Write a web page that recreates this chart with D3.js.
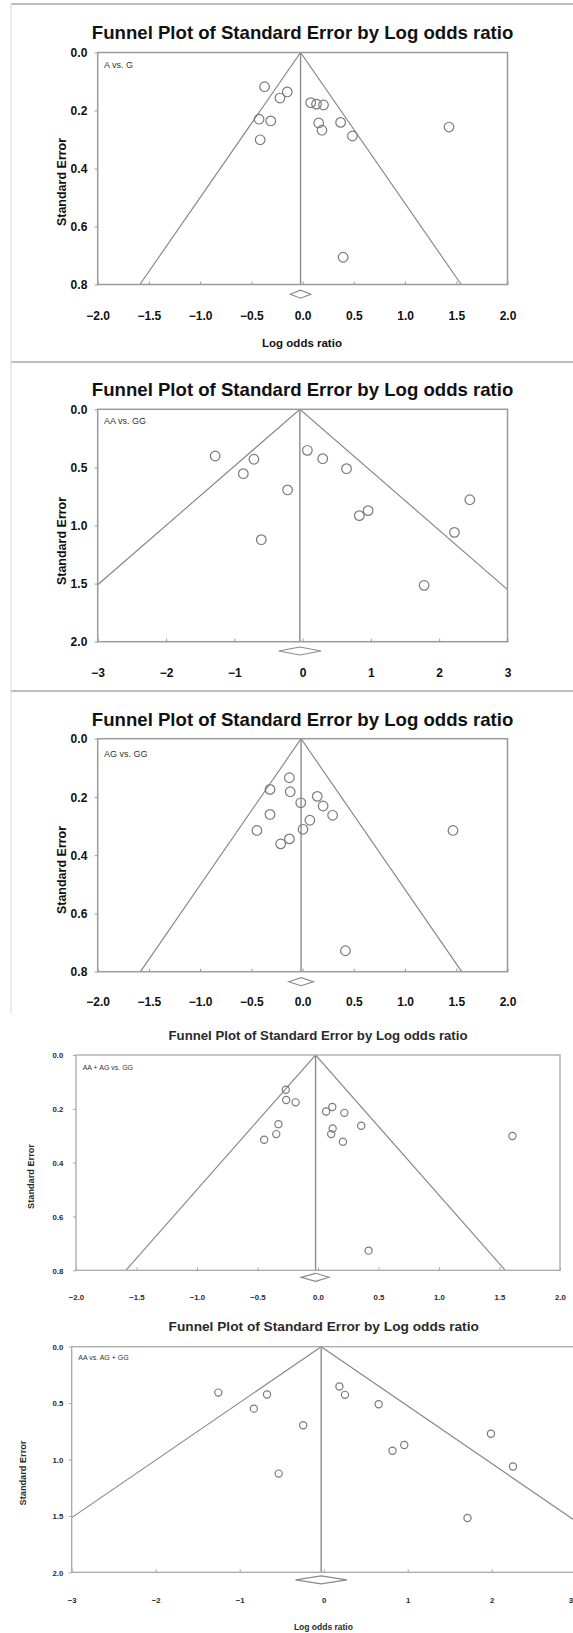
<!DOCTYPE html>
<html>
<head>
<meta charset="utf-8">
<script src="https://d3js.org/d3.v7.min.js"></script>
<style>
  html, body { margin: 0; padding: 0; background: #fff; }
  svg { display: block; font-family: "Liberation Sans", Arial, sans-serif; }
</style>
</head>
<body>
<svg id="chart" width="573" height="1633"></svg>
<script>
// ---------------- DATA ----------------
const chartTitle = "Funnel Plot of Standard Error by Log odds ratio";
const yAxisTitle = "Standard Error";
const xAxisTitle = "Log odds ratio";
const panelLabels = ["A vs. G", "AA vs. GG", "AG vs. GG", "AA + AG vs. GG", "AA vs. AG + GG"];

// Study log odds ratios and standard errors per comparison
const lorAvsG   = [-0.371, -0.150, -0.221, -0.425, -0.311, -0.414, 0.079, 0.136, 0.204, 0.157, 0.189, 0.371, 0.486, 1.429, 0.396];
const seAvsG    = [0.118, 0.136, 0.157, 0.230, 0.236, 0.301, 0.173, 0.178, 0.181, 0.243, 0.268, 0.241, 0.288, 0.257, 0.706];

const lorAAvsGG = [-1.280, -0.713, -0.868, -0.220, -0.605, 0.070, 0.295, 0.643, 0.830, 0.959, 2.448, 2.223, 1.779];
const seAAvsGG  = [0.402, 0.430, 0.554, 0.694, 1.122, 0.353, 0.425, 0.511, 0.915, 0.872, 0.778, 1.059, 1.515];

const lorAGvsGG = [-0.129, -0.318, -0.121, 0.143, -0.018, 0.200, 0.293, -0.318, 0.071, 0.004, -0.446, -0.129, -0.214, 1.468, 0.418];
const seAGvsGG  = [0.134, 0.174, 0.182, 0.198, 0.220, 0.231, 0.263, 0.260, 0.280, 0.311, 0.315, 0.344, 0.361, 0.315, 0.728];

const lorDominant = [-0.266, -0.263, -0.185, -0.327, -0.345, -0.445, 0.067, 0.118, 0.218, 0.121, 0.109, 0.206, 0.357, 1.607, 0.418];
const seDominant  = [0.129, 0.167, 0.176, 0.257, 0.294, 0.315, 0.210, 0.193, 0.215, 0.273, 0.294, 0.322, 0.263, 0.301, 0.727];

const lorRecessive = [-1.255, -0.675, -0.832, -0.244, -0.536, 0.187, 0.253, 0.654, 0.819, 0.959, 1.991, 2.253, 1.712];
const seRecessive  = [0.407, 0.424, 0.549, 0.697, 1.125, 0.353, 0.427, 0.510, 0.923, 0.872, 0.772, 1.062, 1.519];

// Pooled estimate [point, lower, upper] per comparison (diamond)
const pooledEstimate = [-0.02, -0.04, -0.015, -0.02, -0.03];
const pooledLower    = [-0.12, -0.35, -0.135, -0.14, -0.335];
const pooledUpper    = [ 0.08,  0.27,  0.105,  0.09,  0.275];

// Axis ticks
const xTicksNarrow = [-2.0, -1.5, -1.0, -0.5, 0.0, 0.5, 1.0, 1.5, 2.0];
const xTicksWide   = [-3, -2, -1, 0, 1, 2, 3];
const yTicksNarrow = [0.0, 0.2, 0.4, 0.6, 0.8];
const yTicksWide   = [0.0, 0.5, 1.0, 1.5, 2.0];

// ---------------- LAYOUT ----------------
const big = { title: 18.6, tick: 12, axisTitle: 12.5, label: 9, r: 4.8, frame: "#9a9a9a", frameW: 1.5 };
const small = { title: 13.2, tick: 7.8, axisTitle: 9.2, label: 7, r: 3.6, frame: "#a8a8a8", frameW: 1.3 };

const panels = [
  { x: lorAvsG, se: seAvsG, xd: [-2, 2], yd: [0, 0.8], xt: xTicksNarrow, yt: yTicksNarrow, xf: ".1f",
    L: 97.7, R: 507.5, T: 52.5, B: 284.5, titleY: 39.3, titleSize: 18.6, xtY: 320, ytX: 87.3, yTitle: [61.7, 182],
    labelXY: [104, 68.2], xTitle: [302, 347], dY: 9.7, s: big },
  { x: lorAAvsGG, se: seAAvsGG, xd: [-3, 3], yd: [0, 2], xt: xTicksWide, yt: yTicksWide, xf: "d",
    L: 97.7, R: 507.5, T: 409.3, B: 641.7, titleY: 396, titleSize: 18.6, xtY: 677.3, ytX: 87.3, yTitle: [61.7, 541],
    labelXY: [104, 424], xTitle: null, dY: 9.3, s: big },
  { x: lorAGvsGG, se: seAGvsGG, xd: [-2, 2], yd: [0, 0.8], xt: xTicksNarrow, yt: yTicksNarrow, xf: ".1f",
    L: 97.7, R: 507.5, T: 738.7, B: 971.7, titleY: 726, titleSize: 18.6, xtY: 1006.3, ytX: 87.3, yTitle: [61.7, 870],
    labelXY: [104, 756.5], xTitle: null, dY: 10, s: big },
  { x: lorDominant, se: seDominant, xd: [-2, 2], yd: [0, 0.8], xt: xTicksNarrow, yt: yTicksNarrow, xf: ".1f",
    L: 76, R: 560, T: 1055, B: 1270.3, titleY: 1039.5, titleSize: 13.2, xtY: 1300, ytX: 63.3, yTitle: [30.7, 1176.5],
    labelXY: [82.7, 1069.7], xTitle: null, dY: 7, s: small },
  { x: lorRecessive, se: seRecessive, xd: [-3, 3], yd: [0, 2], xt: xTicksWide, yt: yTicksWide, xf: "d",
    L: 71.7, R: 575.7, T: 1346.7, B: 1572.3, titleY: 1330.7, titleSize: 13.7, xtY: 1603, ytX: 63.3, yTitle: [22.7, 1473],
    labelXY: [78.3, 1360], xTitle: [323.4, 1630], dY: 7.5, s: small }
];

const W = 573, H = 1633;
const svg = d3.select("#chart");
svg.append("rect").attr("width", W).attr("height", H).attr("fill", "#fff");

// outer panel borders of the upper figure
const borderColor = "#a9a9a9";
[4, 362, 691].forEach(y => {
  svg.append("line").attr("x1", 11).attr("x2", W).attr("y1", y).attr("y2", y)
    .attr("stroke", borderColor).attr("stroke-width", 1.5);
});
svg.append("line").attr("x1", 11).attr("x2", 11).attr("y1", 4).attr("y2", 1013)
  .attr("stroke", "#d6d6d6").attr("stroke-width", 1);

panels.forEach((p, i) => {
  const s = p.s;
  const g = svg.append("g");
  const x = d3.scaleLinear().domain(p.xd).range([p.L, p.R]);
  const y = d3.scaleLinear().domain(p.yd).range([p.T, p.B]);
  const cx = (p.L + p.R) / 2;
  const textCol = i < 3 ? "#111" : "#2a2a2a";

  // title
  g.append("text").attr("x", cx).attr("y", p.titleY)
    .attr("text-anchor", "middle").attr("font-weight", "bold")
    .attr("font-size", p.titleSize).attr("fill", textCol).text(chartTitle);

  // clip for funnel
  const clipId = "clip" + i;
  g.append("clipPath").attr("id", clipId).append("rect")
    .attr("x", p.L).attr("y", p.T).attr("width", p.R - p.L).attr("height", p.B - p.T);

  const est = pooledEstimate[i];
  const seMax = p.yd[1];
  const funnel = [[est - 1.96 * seMax, seMax], [est, 0], [est + 1.96 * seMax, seMax]];
  g.append("path").attr("clip-path", `url(#${clipId})`)
    .attr("d", d3.line().x(d => x(d[0])).y(d => y(d[1]))(funnel))
    .attr("fill", "none").attr("stroke", "#8a8a8a").attr("stroke-width", 1.2);
  g.append("line").attr("x1", x(est)).attr("x2", x(est)).attr("y1", y(0)).attr("y2", y(seMax))
    .attr("stroke", "#8a8a8a").attr("stroke-width", 1.4);

  // frame
  g.append("rect").attr("x", p.L).attr("y", p.T).attr("width", p.R - p.L).attr("height", p.B - p.T)
    .attr("fill", "none").attr("stroke", s.frame).attr("stroke-width", s.frameW);

  // x axis ticks (inward) and labels
  const xAxis = d3.axisBottom(x).tickValues(p.xt).tickSize(-3).tickPadding(0)
    .tickFormat(d3.format(p.xf));
  const xa = g.append("g").attr("transform", `translate(0,${p.B})`).call(xAxis);
  xa.select(".domain").remove();
  xa.selectAll(".tick line").attr("stroke", s.frame).attr("stroke-width", 1);
  xa.selectAll(".tick text").attr("y", p.xtY - p.B).attr("dy", 0)
    .attr("font-size", s.tick).attr("font-weight", "bold").attr("fill", textCol)
    .attr("font-family", "Liberation Sans, Arial, sans-serif")
    .each(function(d) {
      // keep a label that would run past the page edge inside it
      const el = d3.select(this);
      const bw = this.getComputedTextLength();
      const px = x(d);
      if (px + bw / 2 > W) el.attr("text-anchor", "end").attr("x", W - px - 0.5);
    });

  // y axis ticks (outward) and labels
  const yAxis = d3.axisLeft(y).tickValues(p.yt).tickSize(3).tickPadding(0)
    .tickFormat(d3.format(".1f"));
  const ya = g.append("g").attr("transform", `translate(${p.L},0)`).call(yAxis);
  ya.select(".domain").remove();
  ya.selectAll(".tick line").attr("stroke", s.frame).attr("stroke-width", 1);
  ya.selectAll(".tick text").attr("x", p.ytX - p.L).attr("dy", "0.35em")
    .attr("font-size", s.tick).attr("font-weight", "bold").attr("fill", textCol)
    .attr("font-family", "Liberation Sans, Arial, sans-serif");

  // y axis title
  g.append("text")
    .attr("transform", `translate(${p.yTitle[0]},${p.yTitle[1]}) rotate(-90)`)
    .attr("text-anchor", "middle").attr("dy", "0.35em")
    .attr("font-weight", "bold").attr("font-size", s.axisTitle).attr("fill", textCol)
    .text(yAxisTitle);

  // x axis title
  if (p.xTitle) {
    g.append("text").attr("x", p.xTitle[0]).attr("y", p.xTitle[1])
      .attr("text-anchor", "middle").attr("font-weight", "bold")
      .attr("font-size", i < 3 ? 11.5 : 8.5).attr("fill", textCol).text(xAxisTitle);
  }

  // panel label
  g.append("text").attr("x", p.labelXY[0]).attr("y", p.labelXY[1])
    .attr("font-size", s.label).attr("fill", "#333").text(panelLabels[i]);

  // diamond (pooled estimate)
  const dy = p.B + p.dY, hh = 4;
  const dpts = [[x(pooledLower[i]), dy], [x(est), dy - hh], [x(pooledUpper[i]), dy], [x(est), dy + hh]];
  g.append("path").attr("d", d3.line()(dpts) + "Z")
    .attr("fill", "#fff").attr("stroke", "#8a8a8a").attr("stroke-width", 1.2);

  // study points
  const pts = p.x.map((v, k) => ({ lor: v, se: p.se[k] }));
  g.selectAll("circle.study").data(pts).join("circle").attr("class", "study")
    .attr("cx", d => x(d.lor)).attr("cy", d => y(d.se)).attr("r", s.r)
    .attr("fill", "none").attr("stroke", "#7a7a7a").attr("stroke-width", 1.2);
});
</script>
</body>
</html>
